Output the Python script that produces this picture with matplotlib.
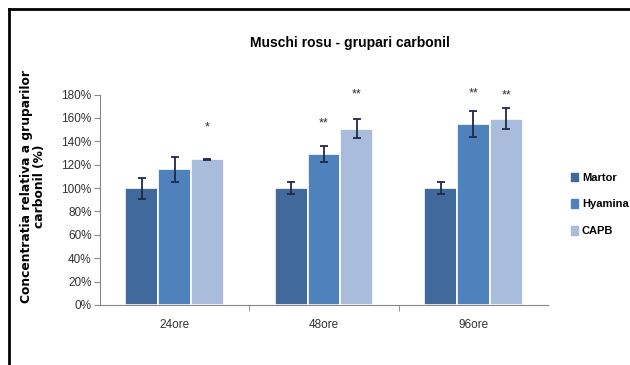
import matplotlib.pyplot as plt
import numpy as np
from matplotlib.lines import Line2D

categories = ['24ore', '48ore', '96ore']
series = ['Martor', 'Hyamina', 'CAPB']
values = {
    'Martor': [100, 100, 100],
    'Hyamina': [116, 129, 155],
    'CAPB': [124.5, 151, 159.5],
}
errors = {
    'Martor': [9, 5, 5],
    'Hyamina': [11, 7, 11],
    'CAPB': [0.5, 8, 9],
}
stars = {
    'Martor': ['', '', ''],
    'Hyamina': ['', '**', '**'],
    'CAPB': ['*', '**', '**'],
}
star_y = {
    'Martor': [0, 0, 0],
    'Hyamina': [0, 155, 181],
    'CAPB': [152, 180, 179],
}
colors = ['#41699c', '#4f81bd', '#a9bcdb']
yticks = [0, 20, 40, 60, 80, 100, 120, 140, 160, 180]

font = ['Liberation Sans', 'DejaVu Sans']

fig = plt.figure(figsize=(6.3, 3.65), dpi=100)
ax = fig.add_axes([0.1587, 0.1644, 0.7113, 0.5764])

x = np.arange(len(categories)) + 0.5
w = 1 / 4.55
for i, s in enumerate(series):
    pos = x + (i - 1) * w
    ax.bar(pos, values[s], w, color=colors[i], edgecolor='white', linewidth=1.2,
           label=s, zorder=2)
    ax.errorbar(pos, values[s], yerr=errors[s], fmt='none', ecolor='#1f2a44',
                elinewidth=1.3, capsize=3, capthick=1.3, zorder=3)
    for j in range(len(categories)):
        if stars[s][j]:
            ax.text(pos[j], star_y[s][j], stars[s][j], ha='center', va='center',
                    fontsize=9, color='#333333', family=font)

ax.set_xlim(0, 3)
ax.set_ylim(0, 180)
ax.set_xticks(x)
ax.set_xticklabels(categories, family=font, fontsize=8.5, color='#333333')
ax.set_xticks([1, 2], minor=True)
ax.tick_params(axis='x', which='major', length=0, pad=10)
ax.tick_params(axis='x', which='minor', length=4, direction='out', color='#888888')
ax.set_yticks(yticks)
ax.set_yticklabels([f'{v}%' for v in yticks], family=font, fontsize=8.5, color='#333333')
ax.tick_params(axis='y', length=4, direction='out', color='#888888', pad=2)
for side in ['top', 'right']:
    ax.spines[side].set_visible(False)
ax.spines['left'].set_color('#888888')
ax.spines['bottom'].set_color('#888888')

fig.text(0.556, 0.882, 'Muschi rosu - grupari carbonil', ha='center', va='center',
         fontsize=10, family=font, fontweight='bold')
fig.text(0.052, 0.49, 'Concentratia relativa a gruparilor\ncarbonil (%)', rotation=90,
         ha='center', va='center', fontsize=8.8, fontweight='bold', linespacing=1.0)

handles = [plt.Rectangle((0, 0), 1, 1, color=c) for c in colors]
fig.legend(handles, series, loc='center left', bbox_to_anchor=(0.907, 0.44),
           frameon=False, prop={'family': font, 'size': 8, 'weight': 'bold'},
           handlelength=0.6, handleheight=0.8, handletextpad=0.35, labelspacing=1.5,
           borderpad=0, borderaxespad=0)

# outer frame lines (top and left)
fig.add_artist(Line2D([0.0143, 1.0], [0.9767, 0.9767], transform=fig.transFigure,
                      color='black', linewidth=2))
fig.add_artist(Line2D([0.0143, 0.0143], [0.0, 0.9767], transform=fig.transFigure,
                      color='black', linewidth=2))

fig.savefig('out.png', dpi=100)
